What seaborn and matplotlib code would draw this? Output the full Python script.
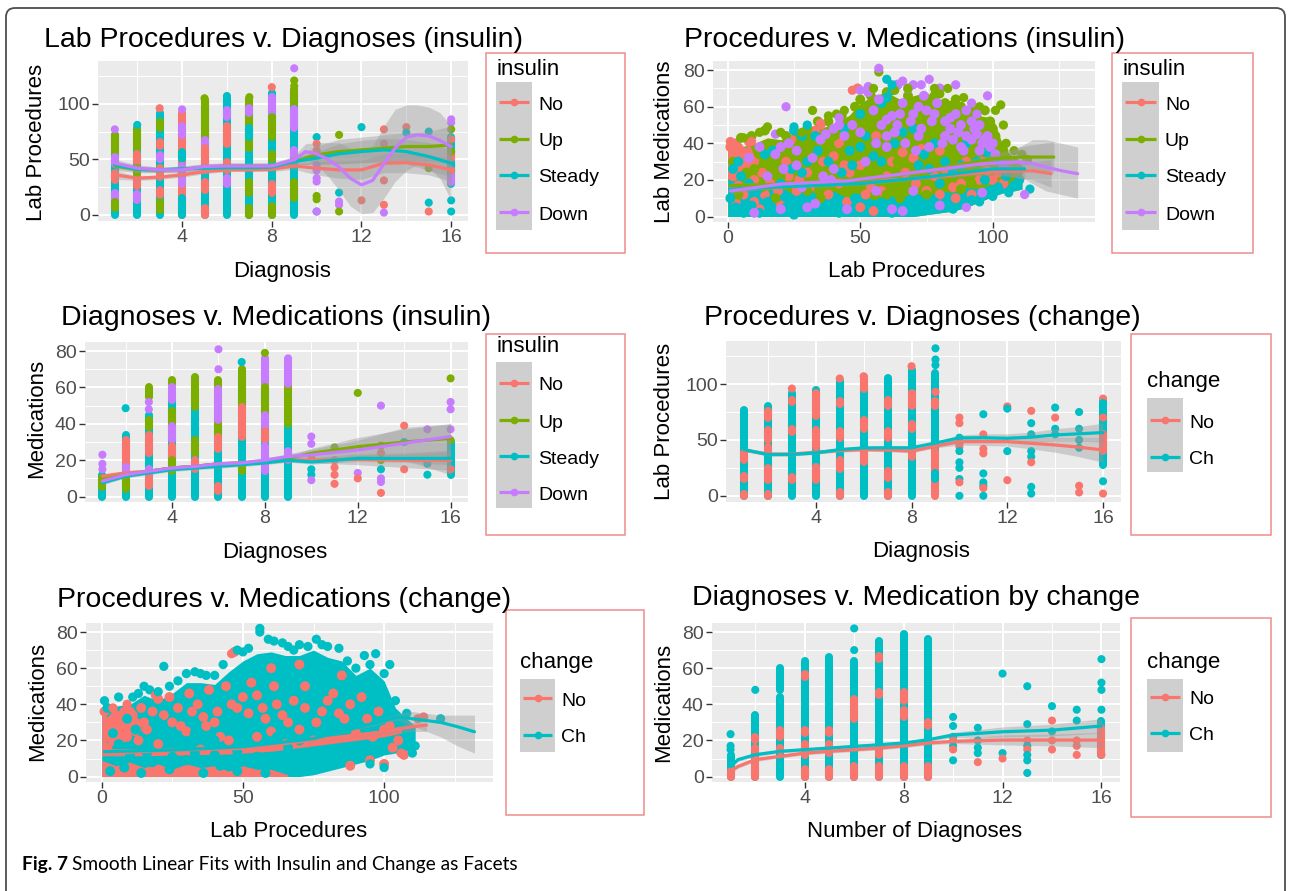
import matplotlib
matplotlib.use("Agg")
import matplotlib.pyplot as plt
import seaborn as sns
import pandas as pd
from matplotlib.patches import Rectangle, FancyBboxPatch

sns.set_theme(style="white")
plt.rcParams["font.family"] = ["Liberation Sans", "DejaVu Sans"]

W, H = 1289, 891

# ---------------- categories / palettes ----------------
INS = ["No", "Up", "Steady", "Down"]
INS_PAL = dict(zip(INS, ["#F8766D", "#7CAE00", "#00BFC4", "#C77CFF"]))
CHG = ["No", "Ch"]
CHG_PAL = dict(zip(CHG, ["#F8766D", "#00BFC4"]))

TITLES = ["Lab Procedures v. Diagnoses (insulin)", "Procedures v. Medications (insulin)",
          "Diagnoses v. Medications (insulin)", "Procedures v. Diagnoses (change)",
          "Procedures v. Medications (change)", "Diagnoses v. Medication by change"]
XLABELS = ["Diagnosis", "Lab Procedures", "Diagnoses", "Diagnosis", "Lab Procedures", "Number of Diagnoses"]
YLABELS = ["Lab Procedures", "Lab Medications", "Medications", "Lab Procedures", "Medications", "Medications"]
DIAG_TICKS = [4, 8, 12, 16]
LAB_TICKS = [0, 50, 100]
MED_TICKS = [0, 20, 40, 60, 80]
CAPTION_BOLD = "Fig. 7"
CAPTION = "Smooth Linear Fits with Insulin and Change as Facets"

# ---------------- panel 1: lab procedures vs diagnoses (insulin) ----------------
p1_columns = [
    (1, "Steady", 0, 72), (1, "Up", 56, 72), (1, "Down", 46, 52), (1, "No", 31, 38), (1, "Down", 14, 20), (1, "Up", 6, 12),
    (2, "Steady", 0, 78), (2, "Up", 60, 77), (2, "No", 48, 55), (2, "No", 26, 35), (2, "Up", 38, 42), (2, "Down", 13, 19),
    (3, "Steady", 0, 92), (3, "Up", 78, 84), (3, "No", 62, 66), (3, "Down", 50, 54), (3, "No", 34, 42), (3, "No", 18, 22), (3, "Up", 4, 12),
    (4, "No", 0, 92), (4, "Down", 72, 80), (4, "Steady", 50, 57), (4, "Down", 40, 44), (4, "Down", 28, 33), (4, "Steady", 0, 15),
    (5, "Steady", 0, 100), (5, "Up", 68, 103), (5, "Down", 62, 67), (5, "No", 40, 60), (5, "No", 22, 30), (5, "No", 0, 6),
    (6, "Steady", 0, 105), (6, "Down", 88, 94), (6, "No", 64, 80), (6, "No", 40, 48), (6, "Down", 28, 33),
    (7, "Steady", 0, 100), (7, "Up", 60, 104), (7, "Down", 92, 96), (7, "Steady", 70, 78), (7, "Up", 20, 30), (7, "Up", 0, 6),
    (8, "Steady", 0, 110), (8, "Down", 92, 106), (8, "Up", 70, 88), (8, "Up", 50, 55), (8, "No", 20, 28), (8, "Up", 0, 8),
    (9, "Steady", 0, 112), (9, "Up", 100, 112), (9, "Down", 78, 95), (9, "Down", 50, 58), (9, "Up", 15, 30),
    (16, "Steady", 28, 70), (16, "Down", 30, 36), (16, "No", 50, 56),
]
p1_points = [
    (1, "Down", 77), (2, "Steady", 81), (3, "No", 96), (4, "Down", 95), (5, "Up", 105), (6, "Steady", 107),
    (7, "Up", 106), (8, "No", 115), (9, "Down", 132), (9, "Up", 121), (9, "Up", 116),
    (10, "Steady", 70), (10, "No", 64), (10, "No", 58), (10, "Down", 45), (10, "Down", 40), (10, "Down", 33),
    (10, "Down", 30), (10, "Up", 17), (10, "Up", 14), (10, "Steady", 3), (10, "Down", 3),
    (11, "Up", 72), (11, "Steady", 20), (11, "Down", 12), (11, "Down", 9), (11, "Up", 3),
    (12, "Steady", 79), (12, "No", 13),
    (13, "No", 77), (13, "No", 64), (13, "No", 31), (13, "No", 9), (13, "Down", 2),
    (14, "No", 79), (14, "Steady", 74),
    (15, "Steady", 75), (15, "Up", 42), (15, "Steady", 11), (15, "No", 3),
    (16, "Down", 86), (16, "Down", 83), (16, "Up", 77), (16, "No", 68), (16, "Up", 57), (16, "Steady", 45),
    (16, "No", 40), (16, "Steady", 13), (16, "Steady", 3),
]
p1_lines = {
    "No": ([1, 2, 3, 4, 5, 6, 7, 8, 9, 10, 11, 12, 13, 14, 15, 16],
           [36, 33, 34, 36, 39, 40.5, 40.5, 41, 44, 42, 40.5, 40.5, 46.5, 47, 45, 40.5],
           [32, 31, 32, 34, 37, 39, 39, 39, 41, 36, 33, 32, 38, 38, 36, 30],
           [40, 35, 36, 38, 41, 42, 42, 43, 47, 48, 48, 49, 55, 56, 54, 51]),
    "Up": ([1, 2, 3, 4, 5, 6, 7, 8, 9, 10, 11, 12, 13, 14, 15, 16],
           [44, 41, 40.5, 41, 43, 44, 44, 44, 48, 54, 57, 58.5, 60, 61.5, 61.5, 63],
           [40, 38, 38, 38, 40, 41, 41, 41, 44, 46, 46, 47, 48, 49, 48, 46],
           [48, 44, 43, 44, 46, 47, 47, 47, 52, 62, 68, 70, 72, 74, 75, 80]),
    "Steady": ([1, 2, 3, 4, 5, 6, 7, 8, 9, 10, 11, 12, 13, 14, 15, 16],
               [45, 41, 40.5, 41.5, 42, 42.5, 42.5, 43, 48, 51, 55, 57, 58.5, 57, 52.5, 46.5],
               [42, 39, 39, 40, 40, 41, 41, 41, 45, 45, 46, 47, 48, 46, 40, 34],
               [48, 43, 42, 43, 44, 44, 44, 45, 51, 57, 64, 67, 69, 68, 65, 59]),
    "Down": ([1, 2, 3, 4, 5, 6, 7, 8, 9, 9.5, 10, 10.5, 11, 11.5, 12, 12.5, 13, 13.5, 14, 14.5, 15, 15.5, 16],
             [46.6, 42, 40.5, 40.5, 43.5, 44, 44, 44, 49.5, 57, 55, 50, 43, 33, 27, 31, 46, 60, 70, 72, 71, 67, 61.5],
             [43, 39, 38, 38, 41, 42, 42, 42, 46, 50, 45, 35, 22, 8, 1, 2, 15, 30, 40, 45, 42, 33, 13],
             [50, 45, 43, 43, 46, 46, 46, 46, 53, 64, 65, 65, 65, 60, 58, 62, 80, 95, 99, 99, 97, 92, 80]),
}

# ---------------- panel 2: medications vs lab procedures (insulin) ----------------
p2_fill_x = [0, 5, 10, 15, 20, 25, 30, 35, 40, 45, 50, 55, 60, 65, 70, 75, 80, 85, 90, 95, 100, 104, 108, 111]
p2_fill_hi = [37, 38, 40, 43, 42, 45, 48, 48, 51, 54, 62, 66, 68, 64, 66, 68, 62, 64, 58, 55, 54, 38, 32, 28]
p2_fill_lo = [0, 0, 0, 0, 0, 0, 0, 0, 0, 0, 0, 0, 0, 0, 0, 1, 2, 3, 5, 8, 11, 13, 14, 15]
p2_low_hi = [22, 17, 19, 14, 16, 12, 15, 11, 14, 10, 13, 9, 12, 10, 13, 11, 14, 13, 16, 15, 18, 17, 18, 18]
p2_no_x = [0, 2, 4, 6, 8, 10, 12]
p2_no_lo = [20, 24, 22, 27, 25, 30, 32]
p2_no_hi = [38, 36, 39, 35, 40, 33, 31]
p2_edge = [
    (1, 41, "No"), (4, 38, "No"), (6, 43, "Up"), (9, 41, "No"), (12, 46, "Up"), (15, 49, "Up"), (18, 45, "Down"),
    (22, 60, "Down"), (25, 49, "Steady"), (28, 46, "Up"), (32, 58, "Up"), (35, 51, "No"), (38, 55, "Up"),
    (41, 56, "Up"), (44, 58, "Up"), (47, 69, "No"), (50, 69, "Down"), (53, 71, "Down"), (57, 79, "Up"),
    (57, 81, "Down"), (60, 75, "Steady"), (63, 69, "Up"), (66, 74, "Down"), (70, 72, "Down"), (73, 72, "Down"),
    (76, 75, "Down"), (80, 67, "Up"), (83, 70, "Up"), (86, 72, "Down"), (89, 65, "Up"), (92, 62, "Down"),
    (95, 60, "Up"), (98, 66, "Down"), (101, 58, "Up"), (103, 61, "Up"), (105, 40, "Up"), (108, 36, "Up"),
    (111, 34, "Up"), (114, 15, "Steady"), (112, 12, "Down"), (106, 13, "Steady"), (100, 11, "Steady"),
    (95, 8, "Steady"), (90, 5, "Down"), (85, 4, "Steady"), (20, 46, "Up"), (30, 50, "Steady"), (42, 54, "Down"),
    (55, 70, "Up"), (62, 72, "Steady"), (68, 70, "Up"), (78, 70, "Up"), (94, 56, "Down"), (104, 50, "Up"),
]
p2_spots = {
    "No": [(1, 38), (3, 40), (5, 36), (8, 41), (3, 32), (6, 28), (2, 22), (4, 17), (6, 12), (10, 8), (14, 12),
           (12, 4), (20, 6), (26, 14), (33, 47), (35, 50), (36, 30), (40, 33), (44, 28), (49, 70), (45, 8),
           (50, 5), (52, 12), (55, 3), (66, 35), (70, 32), (73, 37), (75, 14), (80, 12), (85, 16), (88, 18),
           (90, 30), (95, 20), (98, 25), (102, 24), (104, 18), (60, 22), (30, 24), (22, 30), (106, 28),
           (2, 34), (7, 35), (10, 30), (13, 24), (16, 18), (19, 14), (23, 22), (27, 20), (31, 16), (38, 12),
           (42, 18), (46, 24), (50, 28), (54, 16), (58, 14), (62, 30), (67, 24), (71, 18), (78, 22), (82, 26),
           (86, 10), (92, 12), (96, 30), (100, 20), (42, 40), (56, 44), (80, 36), (24, 42), (10, 20), (3, 8)],
    "Up": [(5, 43), (9, 44), (14, 47), (7, 24), (18, 10), (24, 37), (28, 34), (31, 39), (38, 52), (43, 55),
           (46, 52), (48, 60), (50, 64), (52, 58), (54, 66), (62, 48), (65, 52), (68, 45), (72, 50), (75, 62),
           (78, 66), (80, 58), (86, 64), (89, 55), (92, 58), (96, 45), (100, 48), (53, 24), (57, 22), (60, 12),
           (65, 10), (88, 15), (92, 18), (35, 10), (108, 30), (113, 31),
           (2, 30), (4, 12), (10, 26), (13, 16), (16, 28), (20, 22), (22, 44), (26, 30), (30, 48), (34, 52),
           (36, 40), (40, 44), (44, 36), (47, 44), (50, 50), (55, 54), (58, 60), (60, 68), (63, 62), (66, 58),
           (68, 66), (70, 40), (74, 54), (77, 44), (82, 62), (84, 50), (88, 60), (91, 50), (94, 54), (97, 58),
           (99, 52), (101, 44), (104, 36), (106, 24), (45, 15), (75, 12), (80, 28), (30, 14), (12, 34), (64, 30)],
    "Steady": [(1, 10), (3, 5), (6, 2), (9, 6), (12, 2), (15, 8), (18, 3), (22, 5), (25, 1), (28, 8), (32, 3),
               (38, 6), (42, 2), (48, 10), (58, 6), (62, 2), (68, 7), (72, 3), (78, 8), (84, 5), (92, 9),
               (2, 26), (5, 22), (14, 34), (17, 36), (25, 47), (28, 44), (33, 44), (46, 36), (50, 38),
               (55, 33), (60, 65), (62, 69), (64, 72), (72, 28), (76, 26), (82, 30), (98, 35), (103, 30), (108, 17),
               (4, 30), (8, 18), (11, 14), (20, 18), (24, 26), (28, 24), (30, 30), (34, 36), (38, 30), (43, 24),
               (47, 28), (52, 44), (56, 40), (58, 30), (63, 40), (66, 46), (70, 48), (74, 34), (78, 40), (80, 18),
               (85, 24), (88, 28), (90, 40), (94, 30), (97, 20), (102, 16), (105, 22), (110, 20), (50, 56),
               (58, 62), (44, 48)],
    "Down": [(18, 34), (20, 38), (23, 40), (36, 22), (39, 20), (37, 45), (40, 48), (42, 50), (53, 68), (58, 50),
             (60, 53), (62, 55), (64, 72), (70, 56), (72, 60), (75, 58), (80, 70), (92, 42), (94, 45), (96, 40),
             (98, 44), (62, 4), (66, 3), (30, 5), (33, 7), (96, 13), (26, 28), (84, 48), (88, 38), (82, 52),
             (8, 32), (12, 38), (15, 22), (21, 26), (26, 36), (28, 16), (32, 32), (35, 42), (40, 26), (44, 44),
             (47, 50), (50, 46), (52, 30), (55, 58), (57, 64), (60, 44), (64, 50), (66, 62), (68, 70), (72, 44),
             (74, 66), (77, 52), (79, 62), (82, 44), (86, 56), (88, 50), (90, 58), (93, 48), (95, 36), (99, 38),
             (101, 34), (104, 28), (70, 14), (80, 6), (20, 4), (45, 4), (56, 14), (10, 2),
             (56, 40), (60, 38), (63, 46), (67, 40), (69, 52), (73, 48), (76, 38), (78, 56), (81, 40), (84, 54),
             (87, 46), (90, 44), (92, 52), (95, 50), (97, 42), (100, 40), (85, 42), (65, 56), (71, 36), (89, 36)],
}
p2_lines = {
    "No": ([1, 25, 50, 75, 100, 115, 122], [16, 17, 18.8, 21.4, 24.5, 25, 23.4],
           [14.5, 16, 18, 20.5, 23, 20, 16], [17.5, 18, 19.6, 22.3, 26, 30, 31]),
    "Up": ([1, 25, 50, 75, 100, 110, 123], [17, 17.5, 19.7, 25, 31.6, 32.5, 32.5],
           [15.5, 16.5, 19, 24, 29, 27, 24], [18.5, 18.5, 20.5, 26, 34, 38, 41]),
    "Steady": ([1, 25, 50, 75, 100, 112], [15, 16.5, 18, 21.5, 26, 26],
               [13.5, 15.5, 17, 20.5, 24, 20], [16.5, 17.5, 19, 22.5, 28, 32]),
    "Down": ([1, 20, 45, 70, 95, 105, 110, 115, 120, 126, 132],
             [14, 17.7, 19.5, 24, 28.7, 29.5, 29.8, 29, 27, 25, 23.4],
             [12.5, 16.5, 18.5, 23, 27, 25, 22, 18, 14, 12, 10],
             [15.5, 19, 20.5, 25, 30.5, 33, 38, 42, 42, 40, 38]),
}

# ---------------- panel 3: medications vs diagnoses (insulin) ----------------
p3_columns = [
    (1, "Steady", 0, 12), (1, "Up", 5, 10),
    (2, "Steady", 0, 34), (2, "No", 18, 31), (2, "Up", 4, 12), (2, "Down", 14, 16),
    (3, "Steady", 0, 45), (3, "Up", 55, 60), (3, "Up", 38, 42), (3, "No", 24, 34), (3, "Down", 12, 15), (3, "No", 6, 10),
    (4, "Steady", 0, 55), (4, "Up", 62, 64), (4, "Down", 53, 60), (4, "Up", 40, 47), (4, "Down", 31, 39), (4, "No", 22, 28), (4, "Up", 14, 20),
    (5, "Steady", 0, 50), (5, "Up", 49, 66), (5, "Steady", 36, 44), (5, "Up", 24, 31), (5, "No", 15, 20),
    (6, "Steady", 0, 40), (6, "Up", 34, 64), (6, "Down", 42, 59), (6, "No", 26, 33), (6, "No", 3, 6),
    (7, "Steady", 0, 66), (7, "Up", 51, 70), (7, "No", 33, 49), (7, "Up", 14, 16),
    (8, "Steady", 0, 60), (8, "Down", 62, 76), (8, "Up", 46, 60), (8, "Down", 38, 45), (8, "No", 31, 36), (8, "Down", 14, 28),
    (9, "Steady", 0, 40), (9, "Up", 40, 62), (9, "Down", 62, 75), (9, "Down", 20, 25),
    (16, "Steady", 12, 30),
]
p3_points = [
    (1, "Down", 23), (1, "Down", 18), (1, "Down", 15), (2, "Steady", 48.6), (3, "Down", 52), (3, "Down", 48),
    (6, "Down", 81), (6, "Down", 70), (7, "Steady", 74), (8, "Up", 79), (9, "Down", 76),
    (10, "Down", 33), (10, "Down", 29), (10, "No", 22), (10, "Steady", 15), (10, "Steady", 12), (10, "Down", 9),
    (11, "Up", 27), (11, "No", 20), (11, "No", 16), (11, "No", 12), (11, "No", 7),
    (12, "Up", 57), (12, "Down", 13), (12, "No", 10),
    (13, "Down", 50), (13, "Up", 28), (13, "No", 24), (13, "Up", 20), (13, "Steady", 15), (13, "Down", 10),
    (13, "Down", 8), (13, "No", 2),
    (14, "No", 39), (14, "Steady", 30), (14, "No", 15),
    (15, "Down", 37), (15, "Steady", 18), (15, "Steady", 12),
    (16, "Up", 65), (16, "Down", 52), (16, "Down", 48), (16, "Down", 37), (16, "Up", 31), (16, "No", 15),
]
p3_lines = {
    "No": ([1, 2, 3, 4, 5, 6, 7, 8, 9, 10, 12, 14, 16],
           [11.2, 13, 13.9, 15.7, 16.6, 18, 18.5, 19.4, 20, 20, 20.5, 20, 20],
           [10, 11.8, 12.7, 14.5, 15.4, 16.8, 17.3, 18.2, 18.8, 18.5, 17.5, 16, 14.5],
           [12.4, 14.2, 15.1, 16.9, 17.8, 19.2, 19.7, 20.6, 21.2, 21.5, 23.5, 24, 25.5]),
    "Up": ([1, 2, 3, 4, 5, 6, 7, 8, 9, 10, 12, 14, 16],
           [9.3, 12, 13.9, 15.7, 16.6, 18, 18.3, 19.5, 21, 23.8, 27.4, 30, 32],
           [8, 10.8, 12.7, 14.5, 15.4, 16.8, 17.1, 18.3, 19.5, 21, 22, 22.5, 22],
           [10.6, 13.2, 15.1, 16.9, 17.8, 19.2, 19.5, 20.7, 22.5, 26.5, 32.5, 37, 40]),
    "Steady": ([1, 2, 3, 4, 5, 6, 7, 8, 9, 10, 12, 14, 16],
               [7.5, 11.2, 13, 14.8, 15.7, 16.6, 17.5, 18.5, 20, 19, 21, 21, 21],
               [6.5, 10.2, 12, 13.8, 14.7, 15.6, 16.5, 17.5, 19, 17.8, 19.3, 18.8, 17.5],
               [8.5, 12.2, 14, 15.8, 16.7, 17.6, 18.5, 19.5, 21, 20.2, 22.7, 23.2, 24.5]),
    "Down": ([1, 2, 3, 4, 5, 6, 7, 8, 9, 10, 12, 14, 16],
             [8.5, 12, 13.9, 15.7, 16.6, 18, 18.5, 20, 22, 22.9, 25.6, 29.3, 33],
             [7, 10.8, 12.7, 14.5, 15.4, 16.8, 17.3, 18.8, 20.5, 20, 20, 20, 12],
             [10, 13.2, 15.1, 16.9, 17.8, 19.2, 19.7, 21.2, 23.5, 26, 31, 38, 40]),
}

# ---------------- panel 4: lab procedures vs diagnoses (change) ----------------
p4_columns = [
    (1, "Ch", 0, 77), (1, "No", 32, 38), (1, "No", 15, 18), (1, "No", 0, 2),
    (2, "Ch", 0, 80), (2, "No", 70, 76), (2, "No", 50, 59), (2, "No", 40, 44), (2, "No", 14, 25), (2, "No", 0, 2),
    (3, "Ch", 0, 92), (3, "No", 84, 86), (3, "No", 57, 60), (3, "No", 14, 17),
    (4, "Ch", 0, 95), (4, "No", 71, 92), (4, "No", 44, 59), (4, "No", 14, 26),
    (5, "Ch", 0, 103), (5, "No", 82, 85), (5, "No", 52, 58), (5, "No", 24, 32), (5, "No", 0, 3),
    (6, "Ch", 0, 100), (6, "No", 96, 106), (6, "No", 60, 68), (6, "No", 30, 39),
    (7, "Ch", 0, 105), (7, "No", 80, 86), (7, "No", 52, 58), (7, "No", 16, 22), (7, "No", 0, 3),
    (8, "Ch", 0, 113), (8, "No", 80, 92), (8, "No", 60, 64), (8, "No", 35, 40),
    (9, "Ch", 40, 110), (9, "No", 0, 40), (9, "No", 80, 85), (9, "Ch", 15, 20),
    (16, "Ch", 28, 85), (16, "No", 40, 55),
]
p4_points = [
    (3, "No", 96), (5, "No", 105), (6, "No", 107), (8, "No", 116), (9, "Ch", 132), (9, "Ch", 122), (9, "Ch", 117), (9, "No", 93),
    (10, "No", 70), (10, "No", 65), (10, "Ch", 52), (10, "Ch", 47), (10, "No", 44), (10, "Ch", 40), (10, "Ch", 30),
    (10, "Ch", 25), (10, "Ch", 15), (10, "No", 12), (10, "Ch", 0),
    (11, "Ch", 73), (11, "No", 55), (11, "No", 42), (11, "No", 38), (11, "Ch", 20), (11, "Ch", 12), (11, "Ch", 9),
    (11, "No", 7), (11, "Ch", 0),
    (12, "No", 80), (12, "Ch", 78), (12, "Ch", 40), (12, "No", 14),
    (13, "No", 76), (13, "Ch", 65), (13, "Ch", 55), (13, "Ch", 40), (13, "Ch", 35), (13, "No", 30), (13, "Ch", 8), (13, "Ch", 2),
    (14, "Ch", 79), (14, "No", 70), (14, "Ch", 60), (14, "Ch", 55),
    (15, "Ch", 75), (15, "Ch", 60), (15, "Ch", 50), (15, "Ch", 43), (15, "No", 9), (15, "No", 3),
    (16, "No", 87), (16, "Ch", 83), (16, "No", 70), (16, "Ch", 13), (16, "No", 2),
]
p4_lines = {
    "No": ([1, 2, 3, 4, 5, 6, 7, 8, 9, 10, 11, 12, 13, 14, 15, 16],
           [41, 37.4, 37.4, 39, 40.5, 41.4, 41, 40, 44.4, 48.5, 48.5, 48.5, 47, 45.5, 43.5, 41],
           [39.5, 35.9, 35.9, 37.5, 39, 39.9, 39.5, 38.5, 42.9, 45.5, 45, 44.5, 42, 39, 35, 30],
           [42.5, 38.9, 38.9, 40.5, 42, 42.9, 42.5, 41.5, 45.9, 51.5, 52, 52.5, 52, 52, 52, 52]),
    "Ch": ([1, 2, 3, 4, 5, 6, 7, 8, 9, 10, 11, 12, 13, 14, 15, 16],
           [41.4, 36.9, 37, 38.4, 41.4, 42.9, 43, 43, 47.3, 51.8, 52, 51.5, 52.5, 54.5, 55.5, 56.6],
           [40, 35.5, 35.6, 37, 40, 41.5, 41.6, 41.6, 45.9, 49, 48.5, 47.5, 48, 49, 49, 48],
           [42.8, 38.3, 38.4, 39.8, 42.8, 44.3, 44.4, 44.4, 48.7, 54.5, 55.5, 55.5, 57, 60, 62, 65]),
}

# ---------------- panel 5: medications vs lab procedures (change) ----------------
p5_fill_x = [0, 5, 10, 15, 20, 25, 30, 35, 40, 45, 50, 55, 60, 65, 70, 75, 80, 85, 90, 95, 100, 104, 108, 111]
p5_fill_hi = [38, 39, 40, 45, 42, 46, 52, 52, 51, 58, 64, 68, 69, 67, 67, 70, 66, 64, 56, 60, 53, 38, 32, 28]
p5_fill_lo = [0, 0, 0, 0, 0, 0, 0, 0, 0, 0, 0, 0, 0, 0, 0, 1, 3, 5, 7, 9, 12, 13, 14, 15]
p5_no_x = [0, 5, 10, 15, 20, 25, 30, 35, 40, 45, 50, 55, 60, 66]
p5_no_lo = [0, 0, 0, 0, 0, 0, 0, 0, 0, 0, 0, 0, 0, 0]
p5_no_hi = [9, 6, 8, 5, 7, 4, 7, 5, 6, 3, 6, 4, 4, 1]
p5_band_x = [0, 15, 30, 45, 60, 75, 90, 100, 106]
p5_band_lo = [11.5, 11.5, 12, 12.5, 14, 17, 20, 22, 24]
p5_band_hi = [15.5, 15.5, 16, 16.5, 18, 21, 24, 26, 28]
p5_left_x = [0, 2, 4, 6, 8, 10, 12, 14]
p5_left_lo = [16, 20, 17, 22, 19, 24, 22, 26]
p5_left_hi = [36, 33, 37, 31, 35, 30, 33, 28]
p5_edge = [
    (1, 42, "Ch"), (4, 38, "No"), (6, 44, "Ch"), (9, 40, "No"), (11, 44, "Ch"), (15, 50, "Ch"), (17, 48, "Ch"),
    (19, 45, "No"), (22, 61, "Ch"), (24, 50, "Ch"), (27, 53, "Ch"), (30, 57, "Ch"), (33, 58, "Ch"), (37, 56, "Ch"),
    (40, 56, "Ch"), (43, 62, "Ch"), (46, 68, "No"), (48, 70, "Ch"), (52, 71, "Ch"), (56, 82, "Ch"), (56, 80, "Ch"),
    (59, 76, "Ch"), (61, 75, "Ch"), (64, 74, "Ch"), (66, 72, "Ch"), (70, 73, "Ch"), (73, 72, "Ch"), (76, 76, "Ch"),
    (80, 72, "Ch"), (84, 71, "Ch"), (87, 64, "Ch"), (90, 60, "Ch"), (93, 67, "Ch"), (97, 68, "Ch"), (100, 57, "Ch"),
    (102, 62, "Ch"), (104, 42, "Ch"), (108, 35, "Ch"), (112, 32, "No"), (114, 33, "No"), (120, 32, "Ch"),
    (111, 17, "Ch"), (110, 13, "Ch"), (106, 13, "No"), (100, 5, "Ch"), (95, 7, "Ch"),
    (13, 46, "Ch"), (20, 47, "Ch"), (35, 57, "Ch"), (50, 69, "Ch"), (68, 70, "Ch"), (78, 73, "Ch"), (95, 62, "Ch"),
]
p5_spots = {
    "No": [(1, 36), (2, 30), (3, 25), (5, 34), (4, 20), (8, 28), (10, 36), (12, 30), (7, 22), (14, 38), (16, 26),
           (20, 43), (22, 34), (25, 30), (27, 38), (30, 25), (32, 36), (34, 40), (36, 33), (38, 48), (40, 30),
           (42, 22), (46, 40), (47, 69), (48, 38), (52, 35), (55, 45), (58, 32), (60, 25), (62, 40), (66, 30),
           (70, 26), (72, 38), (76, 30), (80, 42), (84, 35), (86, 32), (90, 24), (92, 44), (96, 22), (100, 26),
           (103, 16), (105, 20), (107, 12), (100, 7), (95, 9), (88, 6), (20, 18), (35, 15), (45, 20), (55, 22),
           (65, 18), (75, 20), (3, 30), (6, 33), (9, 22), (11, 34), (13, 20), (2, 16), (5, 27), (8, 36), (15, 30),
           (18, 36), (24, 44), (28, 28), (31, 46), (37, 28), (41, 36), (44, 50), (50, 44), (53, 52), (57, 38),
           (61, 50), (64, 34), (68, 42), (72, 50), (78, 36), (82, 46), (88, 40), (94, 32), (98, 36), (102, 28),
           (60, 60), (70, 62), (85, 56)],
    "Ch": [(3, 3), (8, 5), (14, 2), (18, 8), (24, 4), (30, 9), (36, 2), (42, 6), (48, 3), (54, 8), (58, 2),
           (64, 6), (70, 3), (76, 8), (82, 10), (86, 12), (92, 14), (10, 12), (25, 11), (40, 12), (55, 11),
           (4, 24), (9, 32), (2, 38), (12, 26), (6, 18), (20, 30), (28, 20), (33, 24), (40, 20), (50, 25),
           (62, 22), (70, 20), (80, 24), (16, 13), (33, 13), (48, 14), (66, 16)],
}
p5_lines = {
    "No": ([1, 25, 50, 75, 90, 100, 110, 115], [12.9, 14.7, 15.6, 20.2, 23, 24.8, 27.6, 28.5],
           [11.5, 14, 15, 19.5, 22, 23.5, 25, 25], [14.3, 15.4, 16.2, 21, 24, 26, 30, 32]),
    "Ch": ([1, 25, 50, 75, 100, 105, 110, 120, 126, 132], [13.8, 14.7, 16.5, 21, 31, 33, 32, 30, 27.6, 24.8],
           [12.5, 14, 16, 20.4, 29.5, 31, 28, 22, 17, 13], [15, 15.4, 17, 21.6, 32.5, 35, 36, 34, 34, 34]),
}

# ---------------- panel 6: medications vs diagnoses (change) ----------------
p6_columns = [
    (1, "Ch", 0, 12), (1, "No", 0, 3),
    (2, "Ch", 0, 34), (2, "No", 20, 22), (2, "No", 14, 16), (2, "No", 0, 10),
    (3, "Ch", 0, 44), (3, "Ch", 48, 60), (3, "No", 22, 26), (3, "No", 14, 16),
    (4, "Ch", 0, 64), (4, "No", 55, 57), (4, "No", 24, 26), (4, "No", 12, 18), (4, "No", 0, 4),
    (5, "Ch", 0, 66), (5, "No", 24, 26), (5, "No", 13, 18), (5, "No", 0, 4),
    (6, "Ch", 0, 64), (6, "No", 32, 43), (6, "No", 0, 6),
    (7, "Ch", 0, 75), (7, "No", 65, 67), (7, "No", 45, 47), (7, "No", 12, 16), (7, "No", 0, 6),
    (8, "Ch", 0, 79), (8, "No", 42, 47), (8, "No", 33, 37), (8, "No", 0, 6),
    (9, "Ch", 0, 76), (9, "No", 28, 30), (9, "No", 0, 6),
    (16, "Ch", 12, 31), (16, "No", 13, 27),
]
p6_points = [
    (1, "Ch", 23.5), (1, "Ch", 17), (1, "Ch", 15), (2, "Ch", 48), (6, "Ch", 82), (6, "Ch", 70),
    (10, "Ch", 33), (10, "Ch", 28), (10, "Ch", 22), (10, "No", 20), (10, "Ch", 17), (10, "No", 15), (10, "Ch", 9),
    (11, "Ch", 27), (11, "Ch", 20), (11, "Ch", 16), (11, "Ch", 13), (11, "No", 8),
    (12, "Ch", 57), (12, "Ch", 13), (12, "No", 10),
    (13, "Ch", 50), (13, "Ch", 29), (13, "No", 20), (13, "Ch", 17), (13, "No", 15), (13, "Ch", 12), (13, "Ch", 9), (13, "Ch", 2),
    (14, "Ch", 39), (14, "No", 31), (14, "Ch", 25), (14, "No", 20), (14, "No", 15),
    (15, "Ch", 37), (15, "Ch", 31), (15, "No", 20), (15, "No", 17), (15, "No", 12),
    (16, "Ch", 65), (16, "Ch", 52), (16, "Ch", 48), (16, "Ch", 37), (16, "No", 12),
]
p6_lines = {
    "No": ([1, 1.3, 2, 3, 4, 5, 6, 7, 8, 9, 10, 12, 14, 16],
           [3, 5.6, 9.4, 11.2, 13, 14, 14.9, 15.8, 17, 18.6, 19.5, 20.2, 20.2, 20.2],
           [2, 4.6, 8.4, 10.2, 12, 13, 13.9, 14.8, 16, 17.6, 18.3, 17.5, 17, 16],
           [4, 6.6, 10.4, 12.2, 14, 15, 15.9, 16.8, 18, 19.6, 20.7, 23, 23.5, 24.5]),
    "Ch": ([1, 1.3, 2, 3, 4, 5, 6, 7, 8, 9, 10, 12, 14, 16],
           [5.6, 9.4, 12.1, 14, 14.9, 15.8, 16.7, 17.6, 18.6, 20.4, 23, 24.8, 25.7, 28],
           [4.6, 8.4, 11.1, 13, 13.9, 14.8, 15.7, 16.6, 17.6, 19.4, 21.5, 22, 22.5, 24],
           [6.6, 10.4, 13.1, 15, 15.9, 16.8, 17.7, 18.6, 19.6, 21.4, 24.5, 27.5, 29, 32]),
}

# ---------------- drawing helpers ----------------
fig = plt.figure(figsize=(W / 100, H / 100), dpi=100)
fig.patch.set_facecolor("white")
bg = fig.add_axes([0, 0, 1, 1], zorder=-1)
bg.set_xlim(0, W)
bg.set_ylim(H, 0)
bg.axis("off")

PT_S = 34
SEG_LW = 5.8


def panel(l, t, r, b):
    return fig.add_axes([l / W, 1 - b / H, (r - l) / W, (b - t) / H])


def style(ax, xlim, ylim, xt, yt, xm, ym):
    ax.set_facecolor("#EBEBEB")
    ax.set_xlim(*xlim)
    ax.set_ylim(*ylim)
    ax.set_xticks(xt)
    ax.set_yticks(yt)
    ax.set_xticks(xm, minor=True)
    ax.set_yticks(ym, minor=True)
    ax.grid(True, which="major", color="white", lw=1.4)
    ax.grid(True, which="minor", color="white", lw=0.7)
    ax.set_axisbelow(True)
    for s in ax.spines.values():
        s.set_visible(False)
    ax.tick_params(axis="both", which="major", length=4, width=1, color="#333333",
                   labelcolor="#4D4D4D", labelsize=14, pad=2, bottom=True, left=True)
    ax.tick_params(axis="both", which="minor", length=0, bottom=False, left=False)
    ax.set_xlabel("")
    ax.set_ylabel("")


def draw_columns(ax, cols, pal):
    df = pd.DataFrame(cols, columns=["diag", "grp", "lo", "hi"])
    lc = ax.vlines(df["diag"], df["lo"], df["hi"], colors=[pal[g] for g in df["grp"]], lw=SEG_LW, zorder=2)
    lc.set_capstyle("round")


def draw_points(ax, pts, pal, order):
    df = pd.DataFrame(pts, columns=["x", "grp", "y"])
    sns.scatterplot(data=df, x="x", y="y", hue="grp", hue_order=order, palette=pal, s=PT_S,
                    linewidth=0, legend=False, ax=ax, zorder=3)


def draw_spots(ax, spots, pal, order, z=2.5):
    rows = [(g, x, y) for g in spots for (x, y) in spots[g]]
    df = pd.DataFrame(rows, columns=["grp", "x", "y"])
    sns.scatterplot(data=df, x="x", y="y", hue="grp", hue_order=order, palette=pal, s=PT_S * 1.5,
                    linewidth=0, legend=False, ax=ax, zorder=z)


def draw_edge(ax, edge, pal, order):
    df = pd.DataFrame(edge, columns=["x", "y", "grp"])
    sns.scatterplot(data=df, x="x", y="y", hue="grp", hue_order=order, palette=pal, s=PT_S * 1.3,
                    linewidth=0, legend=False, ax=ax, zorder=3)


def draw_smooth(ax, lines, pal, order):
    rows = []
    for g in order:
        xs, ys, lo, hi = lines[g]
        ax.fill_between(xs, lo, hi, color="#999999", alpha=0.4, lw=0, zorder=4)
        rows += [(g, x, y) for x, y in zip(xs, ys)]
    df = pd.DataFrame(rows, columns=["grp", "x", "y"])
    sns.lineplot(data=df, x="x", y="y", hue="grp", hue_order=order, palette=pal, estimator=None,
                 sort=False, lw=2.3, legend=False, ax=ax, zorder=5)


def legend(box, title, title_y, key, items_y, labels, pal):
    l, t, r, b = box
    bg.add_patch(Rectangle((l, t), r - l, b - t, fill=False, ec="#F08C8C", lw=1.1))
    kx0, ky0, kx1, ky1 = key
    bg.text(kx0, title_y, title, fontsize=16, va="baseline", ha="left", color="black")
    bg.add_patch(Rectangle((kx0, ky0), kx1 - kx0, ky1 - ky0, fc="#CFCFCF", ec="none"))
    for y, lab in zip(items_y, labels):
        bg.plot([kx0 + 3, kx1 - 3], [y, y], color=pal[lab], lw=2.3, solid_capstyle="butt")
        bg.plot([(kx0 + kx1) / 2], [y], "o", color=pal[lab], ms=5.5, mec="none")
        bg.text(kx1 + 6, y + 1, lab, fontsize=14, va="center_baseline", ha="left", color="black")


def labels(i, tcx, tby, xcx, xby, ycx, ycy):
    bg.text(tcx, tby, TITLES[i], fontsize=20.5, ha="center", va="baseline", color="black")
    bg.text(xcx, xby, XLABELS[i], fontsize=16, ha="center", va="baseline", color="black")
    bg.text(ycx, ycy, YLABELS[i], fontsize=16, ha="center", va="center", rotation=90, color="black")


DIAG_LIM = (0.25, 16.75)
LAB_LIM = (-5.55, 138.55)
MED_LIM = (-3, 85)

# ---- panel 1
ax = panel(98, 61, 468, 221)
draw_columns(ax, p1_columns, INS_PAL)
draw_points(ax, p1_points, INS_PAL, INS)
draw_smooth(ax, p1_lines, INS_PAL, INS)
style(ax, DIAG_LIM, LAB_LIM, DIAG_TICKS, LAB_TICKS, [2, 6, 10, 14], [25, 75, 125])
labels(0, 283, 47, 282, 277, 37, 142)
legend((486, 53, 625, 253), "insulin", 75, (496, 82, 532, 230), [102, 139, 175, 212], INS, INS_PAL)

# ---- panel 2
ax = panel(713, 61, 1095, 222)
ax.fill_between(p2_fill_x, p2_fill_lo, p2_fill_hi, color=INS_PAL["Up"], lw=0, zorder=1.5)
ax.fill_between(p2_fill_x, p2_fill_lo, p2_low_hi, color=INS_PAL["Steady"], lw=0, zorder=1.6)
ax.fill_between(p2_no_x, p2_no_lo, p2_no_hi, color=INS_PAL["No"], lw=0, zorder=1.6)
draw_spots(ax, p2_spots, INS_PAL, INS)
draw_edge(ax, p2_edge, INS_PAL, INS)
draw_smooth(ax, p2_lines, INS_PAL, INS)
style(ax, LAB_LIM, MED_LIM, LAB_TICKS, MED_TICKS, [25, 75, 125], [10, 30, 50, 70])
labels(1, 905, 47, 907, 277, 664, 142)
legend((1112, 53, 1253, 253), "insulin", 75, (1122, 82, 1159, 230), [102, 139, 175, 212], INS, INS_PAL)

# ---- panel 3
ax = panel(85, 342, 468, 502)
draw_columns(ax, p3_columns, INS_PAL)
draw_points(ax, p3_points, INS_PAL, INS)
draw_smooth(ax, p3_lines, INS_PAL, INS)
style(ax, DIAG_LIM, MED_LIM, DIAG_TICKS, MED_TICKS, [2, 6, 10, 14], [10, 30, 50, 70])
labels(2, 276, 325, 275, 558, 37, 418)
legend((486, 334, 625, 535), "insulin", 352, (496, 362, 532, 508), [383, 420, 456, 492], INS, INS_PAL)

# ---- panel 4
ax = panel(726, 341, 1121, 502)
draw_columns(ax, p4_columns, CHG_PAL)
draw_points(ax, p4_points, CHG_PAL, CHG)
draw_smooth(ax, p4_lines, CHG_PAL, CHG)
style(ax, DIAG_LIM, LAB_LIM, DIAG_TICKS, LAB_TICKS, [2, 6, 10, 14], [25, 75, 125])
labels(3, 922, 325, 921, 557, 664, 421)
legend((1131, 334, 1271, 535), "change", 387, (1147, 398, 1183, 472), [420, 457], CHG, CHG_PAL)

# ---- panel 5
ax = panel(86, 623, 493, 782)
ax.fill_between(p5_fill_x, p5_fill_lo, p5_fill_hi, color=CHG_PAL["Ch"], lw=0, zorder=1.5)
ax.fill_between(p5_no_x, p5_no_lo, p5_no_hi, color=CHG_PAL["No"], lw=0, zorder=1.6)
ax.fill_between(p5_band_x, p5_band_lo, p5_band_hi, color=CHG_PAL["No"], lw=0, zorder=1.6)
ax.fill_between(p5_left_x, p5_left_lo, p5_left_hi, color=CHG_PAL["No"], lw=0, zorder=1.6)
draw_spots(ax, p5_spots, CHG_PAL, CHG)
draw_edge(ax, p5_edge, CHG_PAL, CHG)
draw_smooth(ax, p5_lines, CHG_PAL, CHG)
style(ax, LAB_LIM, MED_LIM, LAB_TICKS, MED_TICKS, [25, 75, 125], [10, 30, 50, 70])
labels(4, 284, 607, 289, 837, 38, 701)
legend((506, 610, 644, 815), "change", 668, (520, 679, 555, 752), [698, 735], CHG, CHG_PAL)

# ---- panel 6
ax = panel(712, 623, 1120, 782)
draw_columns(ax, p6_columns, CHG_PAL)
draw_points(ax, p6_points, CHG_PAL, CHG)
draw_smooth(ax, p6_lines, CHG_PAL, CHG)
style(ax, DIAG_LIM, MED_LIM, DIAG_TICKS, MED_TICKS, [2, 6, 10, 14], [10, 30, 50, 70])
labels(5, 916, 605, 915, 837, 664, 702)
legend((1131, 618, 1271, 817), "change", 668, (1147, 679, 1183, 752), [697, 733], CHG, CHG_PAL)

# ---- frame and caption
bg.add_patch(FancyBboxPatch((6, 8), 1279, 900, boxstyle="round,pad=0,rounding_size=9",
                            ec="#4D4D4D", fc="none", lw=1.3))
cap_font = ["Lato", "DejaVu Sans"]
t1 = bg.text(22, 870, CAPTION_BOLD, fontsize=13.8, fontweight="bold", family=cap_font,
             va="baseline", ha="left", color="black")
fig.canvas.draw()
bb = t1.get_window_extent()
bg.text(bb.x1 + 4, 870, CAPTION, fontsize=13.8, family=cap_font, va="baseline", ha="left", color="black")

fig.savefig("out.png", dpi=100)
